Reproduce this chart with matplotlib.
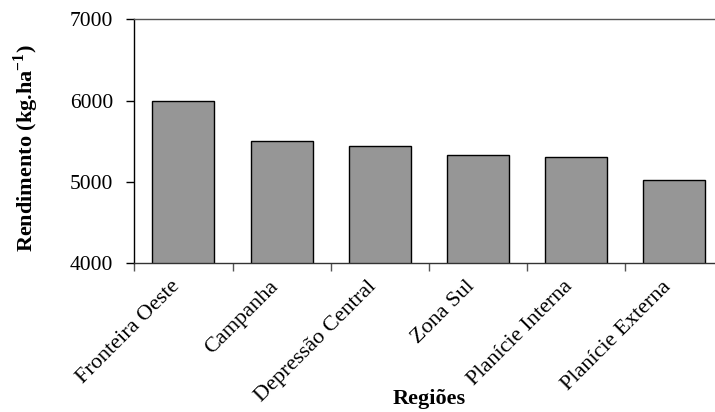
import matplotlib
matplotlib.use("Agg")
import matplotlib.pyplot as plt
import matplotlib.transforms as mtransforms

plt.rcParams['font.family'] = ['Liberation Serif', 'DejaVu Serif']
plt.rcParams['mathtext.fontset'] = 'custom'
plt.rcParams['mathtext.rm'] = 'Liberation Serif'
plt.rcParams['mathtext.bf'] = 'Liberation Serif:bold'

regioes = ["Fronteira Oeste", "Campanha", "Depressão Central", "Zona Sul",
           "Planície Interna", "Planície Externa"]
rendimento = [6000, 5508, 5439, 5332, 5311, 5025]
yticks = [4000, 5000, 6000, 7000]

fig = plt.figure(figsize=(7.15, 4.12), dpi=100)
# plot area runs a little past the right edge, as in the original
ax = fig.add_axes([134.3 / 715, 149 / 412, 589.2 / 715, 243.7 / 412])

x = range(len(regioes))
ax.bar(x, rendimento, width=0.63, color="#969696",
       edgecolor="black", linewidth=1.0, zorder=2)

ax.set_xlim(-0.5, len(regioes) - 0.5)
ax.set_ylim(4000, 7000)
ax.set_yticks(yticks)
ax.set_yticklabels([str(v) for v in yticks], fontsize=15.5)

ax.set_xticks(list(x))
ax.set_xticklabels(regioes, fontsize=16, rotation=45, ha="right",
                   va="center", rotation_mode="anchor")
ax.set_xticks([i - 0.5 for i in range(len(regioes) + 1)], minor=True)
ax.tick_params(axis="x", which="major", length=0, pad=15)
ax.tick_params(axis="x", which="minor", length=6, width=1.0, direction="out",
               color="#555555")
ax.tick_params(axis="y", length=6, width=1.0, direction="out", pad=9)

shift = mtransforms.ScaledTranslation(-6 / 100, 0, fig.dpi_scale_trans)
for lab in ax.get_xticklabels():
    lab.set_transform(lab.get_transform() + shift)

ax.spines["right"].set_visible(False)
ax.spines["top"].set_color("#555555")
ax.spines["bottom"].set_color("#333333")
ax.spines["left"].set_color("black")
for s in ax.spines.values():
    s.set_linewidth(1.0)

ax.set_ylabel("Rendimento (kg.ha$^{\\mathbf{-1}}$)", fontsize=16,
              fontweight="bold")
ax.yaxis.set_label_coords(-0.158, 0.47)
ax.set_xlabel("Regiões", fontsize=16, fontweight="bold", va="top")
ax.xaxis.set_label_coords(0.5, -0.515)

fig.savefig("out.png", dpi=100)
